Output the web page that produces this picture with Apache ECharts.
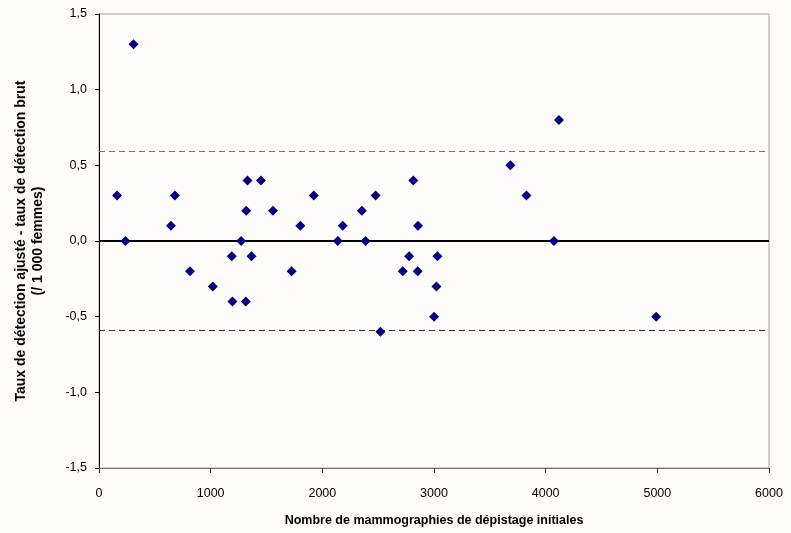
<!DOCTYPE html>
<html>
<head>
<meta charset="utf-8">
<script src="https://cdn.jsdelivr.net/npm/echarts@6/dist/echarts.min.js"></script>
<style>
html, body { margin: 0; padding: 0; background: #fffdfb; }
#chart { width: 791px; height: 533px; }
</style>
</head>
<body>
<div id="chart"></div>
<script>
// nombre de mammographies initiales par centre
var mammographies = [162, 237, 309, 644, 680, 815, 1019, 1189, 1195, 1273,
    1315, 1318, 1330, 1366, 1450, 1558, 1725, 1803, 1923, 2138,
    2183, 2354, 2387, 2477, 2520, 2720, 2777, 2815, 2854, 2857,
    3001, 3022, 3031, 3684, 3828, 4074, 4119, 4990];
// écart taux ajusté - taux brut (/1000 femmes)
var ecarts = [0.3, 0, 1.3, 0.1, 0.3, -0.2, -0.3, -0.1, -0.4, 0,
    -0.4, 0.2, 0.4, -0.1, 0.4, 0.2, -0.2, 0.1, 0.3, 0,
    0.1, 0.2, 0, 0.3, -0.6, -0.2, -0.1, 0.4, -0.2, 0.1,
    -0.5, -0.3, -0.1, 0.5, 0.3, 0, 0.8, -0.5];
var limites = [0.59, -0.59];

var points = mammographies.map(function (x, i) { return [x, ecarts[i]]; });

var chart = echarts.init(document.getElementById('chart'));
chart.setOption({
    animation: false,
    backgroundColor: '#fffdfb',
    textStyle: { fontFamily: 'Liberation Sans, Arial, sans-serif' },
    grid: {
        left: 99, top: 14, right: 22, bottom: 65,
        outerBoundsMode: 'none',
        show: true, borderColor: '#a0a0a0', borderWidth: 1
    },
    xAxis: {
        type: 'value', min: 0, max: 6000, interval: 1000,
        name: 'Nombre de mammographies de dépistage initiales',
        nameLocation: 'middle', nameGap: 46,
        nameTextStyle: { fontWeight: 'bold', fontSize: 12.5, color: '#000' },
        axisLine: { show: true, onZero: false, lineStyle: { color: '#707070', width: 1 } },
        axisTick: { show: true, length: 5, lineStyle: { color: '#333' } },
        axisLabel: {
            color: '#000', fontSize: 12.5, margin: 19,
            formatter: function (v) { return String(v); }
        },
        splitLine: { show: false }
    },
    yAxis: {
        type: 'value', min: -1.5, max: 1.5, interval: 0.5,
        name: 'Taux de détection ajusté - taux de détection brut\n(/ 1 000 femmes)',
        nameLocation: 'middle', nameGap: 52,
        nameTextStyle: { fontWeight: 'bold', fontSize: 14, color: '#000', lineHeight: 17 },
        axisLine: { show: true, onZero: false, lineStyle: { color: '#000', width: 1 } },
        axisTick: { show: true, length: 4, lineStyle: { color: '#000' } },
        axisLabel: {
            color: '#000', fontSize: 12.5, margin: 12,
            formatter: function (v) { return v.toFixed(1).replace('.', ','); }
        },
        splitLine: { show: false }
    },
    series: [{
        type: 'scatter',
        data: points,
        symbol: 'diamond',
        symbolSize: 10,
        itemStyle: { color: '#000080', opacity: 1 },
        z: 5,
        markLine: {
            silent: true,
            symbol: 'none',
            label: { show: false },
            data: [
                { yAxis: 0, lineStyle: { type: 'solid', color: '#000', width: 2 } },
                { yAxis: limites[0], lineStyle: { type: [6, 4], color: '#777', width: 1 } },
                { yAxis: limites[1], lineStyle: { type: [6, 4], color: '#333', width: 1 } }
            ]
        }
    }]
});
</script>
</body>
</html>
